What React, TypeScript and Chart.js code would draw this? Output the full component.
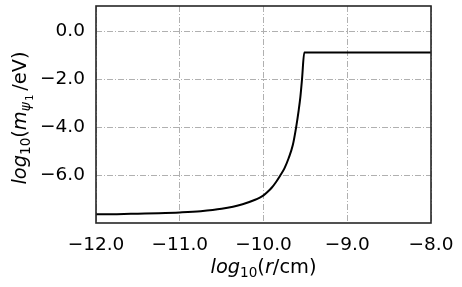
import React, { useEffect, useRef } from "react";
import { Chart, registerables } from "chart.js";

Chart.register(...registerables);

const xValues = [-12, -11.75, -11.5, -11.25, -11, -10.75, -10.5, -10.25, -10.1, -10.05, -10, -9.95, -9.9, -9.85, -9.8, -9.75, -9.7, -9.65, -9.61, -9.58, -9.56, -9.54, -9.513, -8];
const yValues = [-7.64, -7.63, -7.61, -7.59, -7.56, -7.51, -7.41, -7.22, -7.03, -6.95, -6.85, -6.70, -6.52, -6.29, -6.02, -5.72, -5.3, -4.75, -4.0, -3.3, -2.75, -2.0, -0.89, -0.89];
const xTicks = [-12, -11, -10, -9, -8];
const yTicks = [-6, -4, -2, 0];

const FONT = "'DejaVu Sans', sans-serif";

type Seg = { t: string; it?: boolean; s?: number; dy?: number; gap?: number };

const xTitle: Seg[] = [
  { t: "log", it: true },
  { t: "10", s: 0.7, dy: 0.22 },
  { t: "(" },
  { t: "r", it: true },
  { t: "/cm)" },
];
const yTitle: Seg[] = [
  { t: "log", it: true },
  { t: "10", s: 0.7, dy: 0.22 },
  { t: "(" },
  { t: "m", it: true },
  { t: "ψ", it: true, s: 0.7, dy: 0.22, gap: 0.08 },
  { t: "1", s: 0.5, dy: 0.36, gap: 0.2 },
  { t: "/eV)" },
];

function fmt(v: number) {
  return v.toFixed(1).replace("-", "\u2212");
}

function drawRich(ctx: CanvasRenderingContext2D, segs: Seg[], cx: number, cy: number, rot: number, size: number) {
  ctx.save();
  ctx.translate(cx, cy);
  ctx.rotate(rot);
  ctx.fillStyle = "#000";
  ctx.textBaseline = "alphabetic";
  ctx.textAlign = "left";
  const fontOf = (s: Seg) => `${s.it ? "italic " : ""}${size * (s.s ?? 1)}px ${FONT}`;
  let total = 0;
  for (const s of segs) {
    ctx.font = fontOf(s);
    total += ctx.measureText(s.t).width + (s.gap ?? 0) * size;
  }
  let x = -total / 2;
  const base = size * 0.3;
  for (const s of segs) {
    ctx.font = fontOf(s);
    ctx.fillText(s.t, x, base + (s.dy ?? 0) * size);
    x += ctx.measureText(s.t).width + (s.gap ?? 0) * size;
  }
  ctx.restore();
}

const decorPlugin = {
  id: "decor",
  afterDraw(chart: any) {
    const { ctx, chartArea } = chart;
    const { left, right, top, bottom } = chartArea;
    ctx.save();
    ctx.strokeStyle = "#262626";
    ctx.lineWidth = 1.6;
    ctx.setLineDash([]);
    ctx.strokeRect(left, top, right - left, bottom - top);
    ctx.restore();
    drawRich(ctx, xTitle, (left + right) / 2, 267.2, 0, 19.4);
    drawRich(ctx, yTitle, 19.7, 118, -Math.PI / 2, 19.4);
  },
};

export default function App() {
  const ref = useRef<HTMLCanvasElement | null>(null);
  useEffect(() => {
    if (!ref.current) return;
    const chart = new Chart(ref.current, {
      type: "scatter",
      data: {
        datasets: [
          {
            data: xValues.map((x, i) => ({ x, y: yValues[i] })),
            showLine: true,
            borderColor: "#000",
            borderWidth: 2,
            pointRadius: 0,
            cubicInterpolationMode: "monotone",
          },
        ],
      },
      options: {
        animation: false,
        responsive: false,
        devicePixelRatio: 1,
        layout: { padding: { left: 0, top: 6, right: 31, bottom: 0 } },
        plugins: { legend: { display: false }, tooltip: { enabled: false } },
        scales: {
          x: {
            type: "linear",
            min: -12,
            max: -8,
            afterBuildTicks: (s: any) => {
              s.ticks = xTicks.map((v) => ({ value: v }));
            },
            afterFit: (s: any) => {
              s.height = 64;
              s.paddingLeft = 0;
              s.paddingRight = 0;
            },
            ticks: {
              callback: (v: any) => fmt(Number(v)),
              font: { family: FONT, size: 18.5 },
              color: "#000",
              padding: 11.5,
              maxRotation: 0,
            },
            grid: { color: "#b0b0b0", lineWidth: 1, drawTicks: false },
            border: { display: false, dash: [6, 2, 1, 2] },
          },
          y: {
            type: "linear",
            min: -8,
            max: 1.05,
            afterBuildTicks: (s: any) => {
              s.ticks = yTicks.map((v) => ({ value: v }));
            },
            afterFit: (s: any) => {
              s.width = 96;
              s.paddingTop = 0;
              s.paddingBottom = 0;
            },
            ticks: {
              callback: (v: any) => fmt(Number(v)),
              font: { family: FONT, size: 18.5 },
              color: "#000",
              padding: 11,
            },
            grid: { color: "#b0b0b0", lineWidth: 1, drawTicks: false },
            border: { display: false, dash: [6, 2, 1, 2] },
          },
        },
      },
      plugins: [decorPlugin],
    } as any);
    return () => chart.destroy();
  }, []);
  return (
    <div style={{ position: "absolute", left: 0, top: 0, width: 462, height: 287, background: "#fff" }}>
      <canvas ref={ref} width={462} height={287} style={{ width: 462, height: 287 }} />
    </div>
  );
}
